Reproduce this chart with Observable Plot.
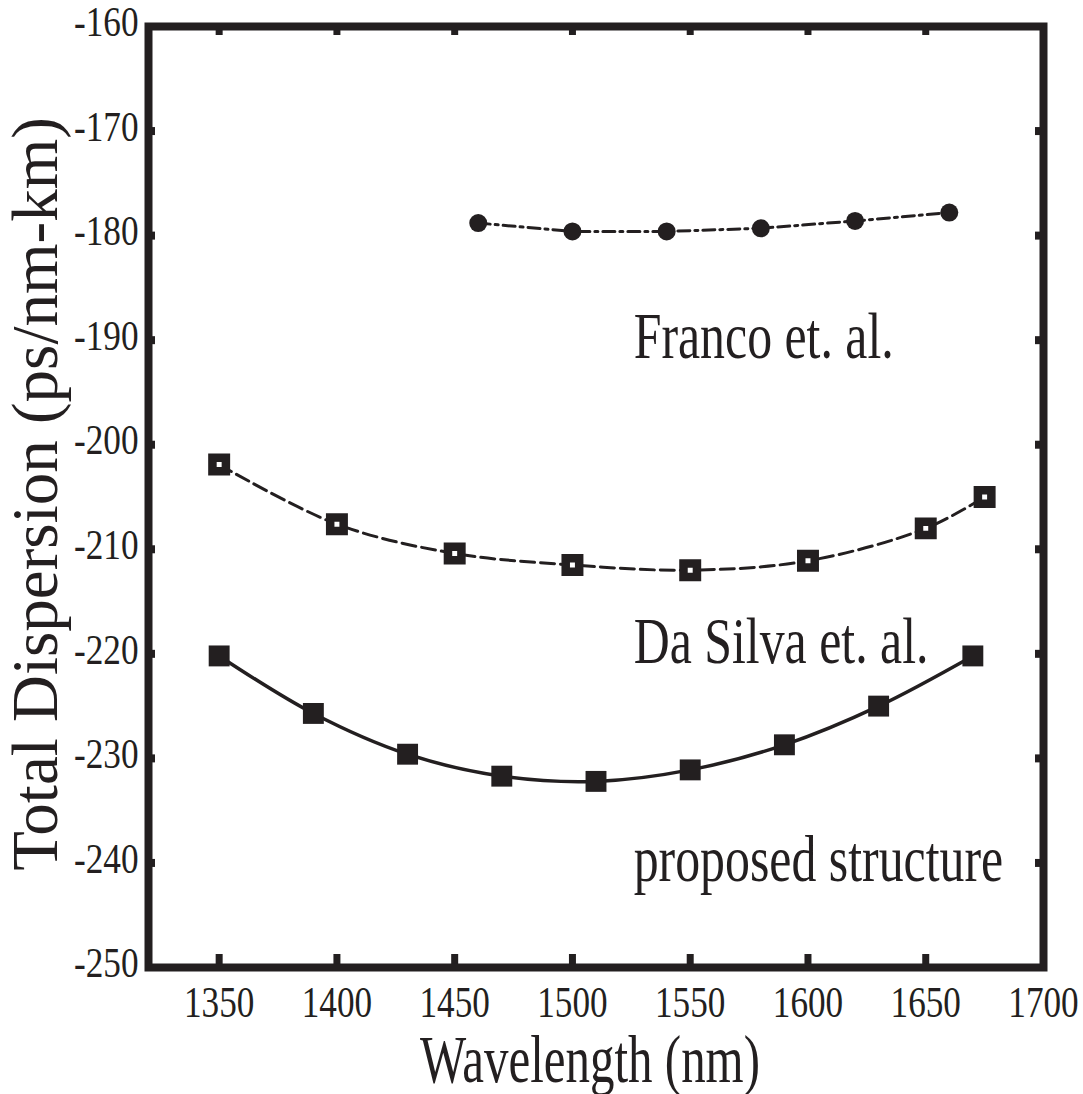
<!DOCTYPE html>
<html>
<head>
<meta charset="utf-8">
<script src="https://cdn.jsdelivr.net/npm/d3@7"></script>
<script src="https://cdn.jsdelivr.net/npm/@observablehq/plot@0.6"></script>
<style>
  html, body { margin: 0; padding: 0; background: #fff; }
</style>
</head>
<body>
<div id="chart"></div>
<script>
// ---- data ----
const xTickLabels = [1350, 1400, 1450, 1500, 1550, 1600, 1650, 1700];
const xInnerTicks = [1350, 1400, 1450, 1500, 1550, 1600, 1650];
const yTickLabels = [-160, -170, -180, -190, -200, -210, -220, -230, -240, -250];
const yInnerTicks = [-170, -180, -190, -200, -210, -220, -230, -240];

const francoX = [1460, 1500, 1540, 1580, 1620, 1660];
const francoY = [-178.8, -179.6, -179.6, -179.3, -178.6, -177.8];

const silvaX = [1350, 1400, 1450, 1500, 1550, 1600, 1650, 1675];
const silvaY = [-201.9, -207.6, -210.4, -211.5, -212.0, -211.1, -208.0, -205.0];

const proposedX = [1350, 1390, 1430, 1470, 1510, 1550, 1590, 1630, 1670];
const proposedY = [-220.2, -225.7, -229.6, -231.7, -232.2, -231.1, -228.7, -225.0, -220.2];

const annotText = ["Franco et. al.", "Da Silva et. al.", "proposed structure"];
const annotX = [1526, 1526, 1526];
const annotY = [-189.7, -218.9, -239.7];

const xTitle = "Wavelength (nm)";
const yTitle = "Total Dispersion (ps/nm-km)";

// ---- build ----
const ink = "#231f20";
const franco = francoX.map((x, i) => ({x, y: francoY[i]}));
const silva = silvaX.map((x, i) => ({x, y: silvaY[i]}));
const proposed = proposedX.map((x, i) => ({x, y: proposedY[i]}));
const annots = annotText.map((t, i) => ({t, x: annotX[i], y: annotY[i]}));

const W = 1083, H = 1094;
const mL = 148, mR = 40, mT = 26, mB = 127;
const frameW = W - mL - mR, frameH = H - mT - mB;
const plain = d => String(d);

const chart = Plot.plot({
  width: W,
  height: H,
  marginLeft: mL,
  marginRight: mR,
  marginTop: mT,
  marginBottom: mB,
  style: {fontFamily: "'Liberation Serif', 'Times New Roman', serif", background: "#fff", color: ink},
  x: {domain: [1320, 1700]},
  y: {domain: [-250, -160]},
  marks: [
    // tick labels
    Plot.axisX({ticks: xTickLabels, tickFormat: plain, tickSize: 0, tickPadding: 18, fontSize: 44, label: null, fill: ink}),
    Plot.axisY({ticks: yTickLabels, tickFormat: plain, tickSize: 0, tickPadding: 10, fontSize: 43, label: null, fill: ink, dy: -4}),
    // inward ticks
    Plot.tickX(xInnerTicks, {x: d => d, insetTop: frameH - 13, stroke: ink, strokeWidth: 7}),
    Plot.tickX(xInnerTicks, {x: d => d, insetBottom: frameH - 9, stroke: ink, strokeWidth: 7}),
    Plot.tickY(yInnerTicks, {y: d => d, insetRight: frameW - 7, stroke: ink, strokeWidth: 8}),
    Plot.tickY(yInnerTicks, {y: d => d, insetLeft: frameW - 8, stroke: ink, strokeWidth: 8}),
    // series
    Plot.line(franco, {x: "x", y: "y", stroke: ink, strokeWidth: 3, strokeDasharray: "12,5,3,5"}),
    Plot.dot(franco, {x: "x", y: "y", r: 9, fill: ink, stroke: "none"}),
    Plot.line(silva, {x: "x", y: "y", stroke: ink, strokeWidth: 3, strokeDasharray: "14,6", curve: "catmull-rom"}),
    Plot.dot(silva, {x: "x", y: "y", symbol: "square", r: 7.6, fill: "#fff", stroke: ink, strokeWidth: 8.5}),
    Plot.line(proposed, {x: "x", y: "y", stroke: ink, strokeWidth: 3.5, curve: "catmull-rom"}),
    Plot.dot(proposed, {x: "x", y: "y", symbol: "square", r: 11.8, fill: ink, stroke: "none"}),
    // annotations
    Plot.text(annots, {x: "x", y: "y", text: "t", textAnchor: "start", lineAnchor: "middle", fontSize: 66, fill: ink}),
    // titles
    Plot.text([xTitle], {frameAnchor: "bottom", textAnchor: "middle", dy: 93, lineAnchor: "middle", fontSize: 68, fill: ink, dx: -6}),
    Plot.text([yTitle], {frameAnchor: "left", textAnchor: "middle", rotate: -90, dx: -112, dy: -3, lineAnchor: "middle", fontSize: 65, fill: ink}),
    // frame
    Plot.frame({stroke: ink, strokeWidth: 8})
  ]
});

document.getElementById("chart").appendChild(chart);

// condense glyphs horizontally like the reference (squashed serif type)
const ratioBySize = {44: 0.8, 43: 0.82, 66: 0.755, 68: 0.72};
chart.querySelectorAll("text").forEach(t => {
  const fs = Math.round(parseFloat(getComputedStyle(t).fontSize));
  const r = ratioBySize[fs];
  if (!r || !t.textContent) return;
  const len = t.getComputedTextLength();
  t.setAttribute("textLength", (len * r).toFixed(1));
  t.setAttribute("lengthAdjust", "spacingAndGlyphs");
});
</script>
</body>
</html>
